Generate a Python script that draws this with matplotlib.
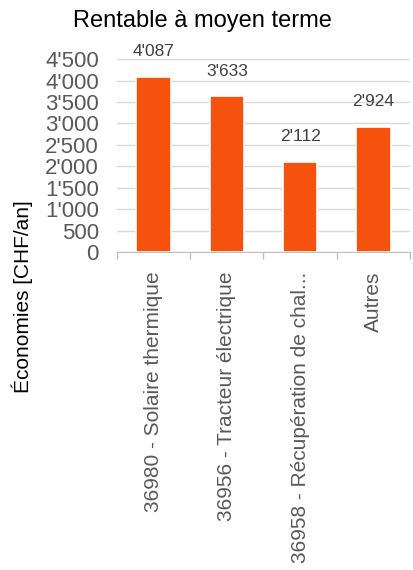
import matplotlib
matplotlib.use("Agg")
import matplotlib.pyplot as plt
from matplotlib.ticker import FuncFormatter, FixedLocator

plt.rcParams['font.family'] = ['Liberation Sans', 'DejaVu Sans']

categories = ['36980 - Solaire thermique', '36956 - Tracteur électrique',
              '36958 - Récupération de chal...', 'Autres']
savings = [4087, 3633, 2112, 2924]
yticks = [0, 500, 1000, 1500, 2000, 2500, 3000, 3500, 4000, 4500]

bar_colour = '#f5520e'
grey = '#595959'


def swiss(v):
    return f"{v:,.0f}".replace(",", "'")


fig = plt.figure(figsize=(4.13, 5.70), dpi=100)
ax = fig.add_axes([0.283, 0.558, 0.710, 0.338])

x = range(len(categories))
bars = ax.bar(x, savings, width=0.47, color=bar_colour, edgecolor='white',
              linewidth=1.2, zorder=3)

for b, v in zip(bars, savings):
    ax.annotate(swiss(v), (b.get_x() + b.get_width() / 2, v),
                xytext=(0, 18), textcoords='offset points',
                ha='center', va='center', fontsize=12.5, color='#404040')

ax.set_xlim(-0.5, len(categories) - 0.5)
ax.set_ylim(0, 4500)
ax.set_yticks(yticks)
ax.yaxis.set_major_formatter(FuncFormatter(lambda v, p: swiss(v)))
ax.tick_params(axis='y', length=0, pad=13, labelsize=16, labelcolor=grey)

ax.set_xticks(list(x))
ax.set_xticklabels(categories, rotation=90, fontsize=15, color=grey)
ax.tick_params(axis='x', which='major', length=0, pad=14)
ax.xaxis.set_minor_locator(FixedLocator([i - 0.5 for i in range(len(categories) + 1)]))
ax.tick_params(axis='x', which='minor', length=5, color='#bfbfbf', width=1)

ax.grid(axis='y', color='#d9d9d9', linewidth=1, zorder=0)
ax.set_axisbelow(True)
for s in ['top', 'right', 'left']:
    ax.spines[s].set_visible(False)
ax.spines['bottom'].set_color('#bfbfbf')
ax.spines['bottom'].set_zorder(4)

fig.text(0.49, 0.963, 'Rentable à moyen terme', ha='center', va='center',
         fontsize=17, color='black')
fig.text(0.055, 0.48, 'Économies [CHF/an]', rotation=90, ha='center',
         va='center', fontsize=15, color='black')

fig.savefig('out.png', dpi=100)
